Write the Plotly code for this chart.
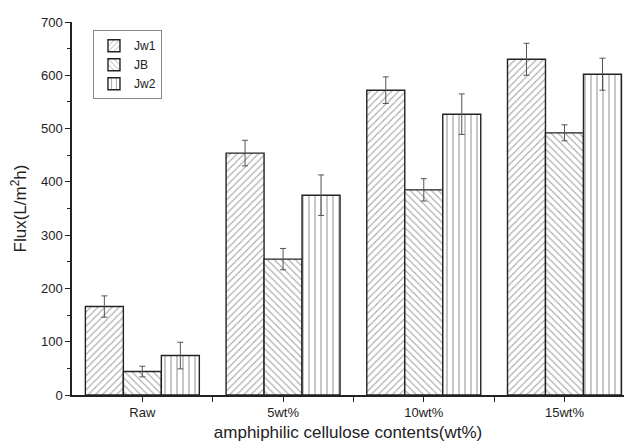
import plotly.graph_objects as go

categories = ["Raw", "5wt%", "10wt%", "15wt%"]
series_names = ["Jw1", "JB", "Jw2"]
jw1 = [166, 454, 572, 630]
jb = [44, 255, 385, 492]
jw2 = [74, 375, 527, 602]
jw1_err = [20, 24, 25, 30]
jb_err = [10, 20, 21, 15]
jw2_err = [25, 38, 38, 30]

values = [jw1, jb, jw2]
errors = [jw1_err, jb_err, jw2_err]
shapes = ["/", "\\", "|"]
sizes = [5, 5, 6]

x = list(range(len(categories)))
fig = go.Figure()
for name, vals, errs, shp, sz in zip(series_names, values, errors, shapes, sizes):
    fig.add_trace(go.Bar(
        name=name, x=x, y=vals,
        marker=dict(color="white",
                    line=dict(color="#222222", width=1.4),
                    pattern=dict(shape=shp, fgcolor="#555555", bgcolor="white",
                                 size=sz, solidity=0.22, fillmode="overlay")),
        error_y=dict(type="data", array=errs, visible=True, color="#555555",
                     thickness=1, width=3),
    ))

fig.update_layout(
    width=624, height=444,
    margin=dict(l=72, r=0, t=22, b=49),
    paper_bgcolor="white", plot_bgcolor="white",
    barmode="group", bargap=0.19, bargroupgap=0,
    font=dict(family="Liberation Sans, Arial", color="#222222", size=12),
    legend=dict(x=0.038, y=0.978, xanchor="left", yanchor="top",
                bordercolor="#888888", borderwidth=1, bgcolor="white",
                font=dict(size=12), tracegroupgap=0, itemwidth=30),
    showlegend=True,
)
fig.update_xaxes(
    range=[-0.5, 3.423], tickmode="array", tickvals=x, ticktext=categories,
    showline=True, linecolor="#222222", linewidth=1.5,
    ticks="outside", ticklen=5, tickcolor="#222222",
    minor=dict(tickmode="array", tickvals=[0.5, 1.5, 2.5], ticks="outside",
               ticklen=5, tickcolor="#222222"),
    showgrid=False, zeroline=False, tickfont=dict(size=13),
    title=dict(text="amphiphilic cellulose contents(wt%)", font=dict(size=17), standoff=7),
)
fig.update_yaxes(
    range=[0, 700], dtick=100, showline=True, linecolor="#222222", linewidth=1.5,
    ticks="outside", ticklen=5, tickcolor="#222222",
    minor=dict(dtick=50, ticks="outside", ticklen=3, tickcolor="#222222"),
    showgrid=False, zeroline=False, tickfont=dict(size=13),
    title=dict(text="Flux(L/m<sup>2</sup>h)", font=dict(size=17), standoff=10),
)
fig.write_html("out.html", config={"displayModeBar": False},
               post_script="document.body.style.margin='0';")
